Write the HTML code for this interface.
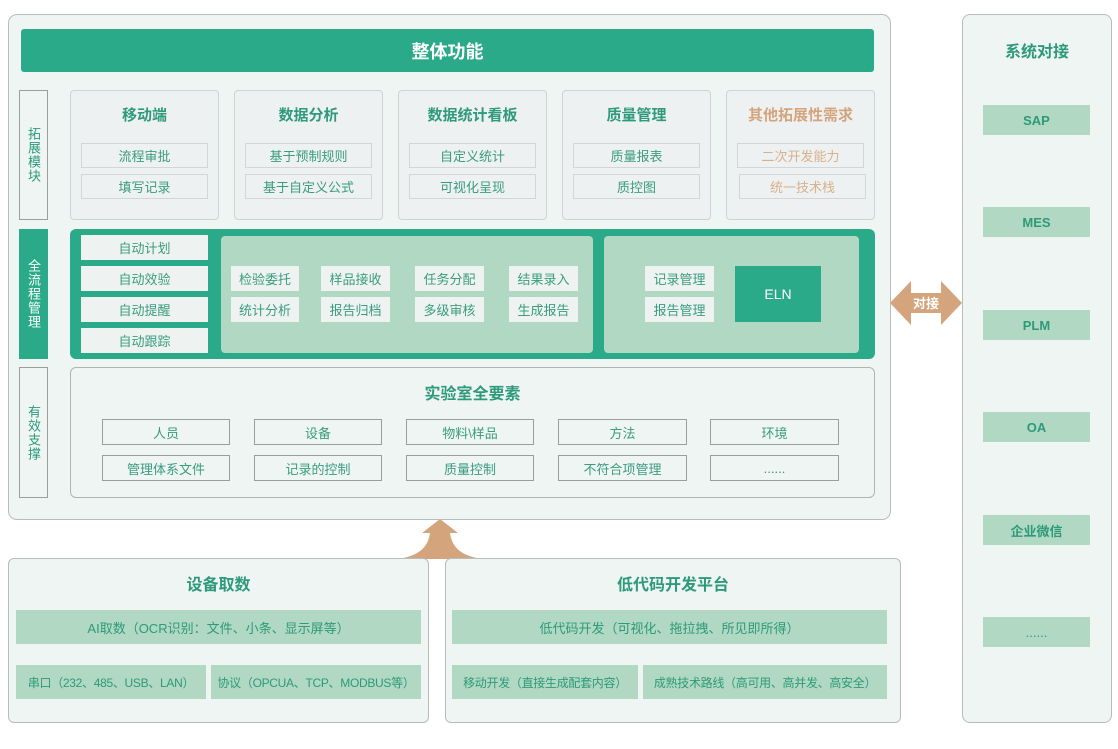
<!DOCTYPE html>
<html><head><meta charset="utf-8"><style>
*{box-sizing:border-box;margin:0;padding:0}
body{width:1118px;height:749px;background:#fff;position:relative;overflow:hidden;font-family:"Liberation Sans","Noto Sans CJK SC",sans-serif;color:#2a9a7a}
.a{position:absolute;display:flex;align-items:center;justify-content:center;text-align:center;white-space:nowrap}
.panel{background:#eef5f2;border:1.5px solid #b8bcbb;border-radius:9px}
.card{background:#eef1f1;border:1px solid #cfd3d3;border-radius:4px}
.it{background:#eef1f1;border:1px solid #d3d6d6;font-size:13px;color:#3a9c7e}
.g{background:#b0d8c2;font-size:13px;color:#2e9a7a}
.w{background:#eef3f1;font-size:13px;color:#3a9c7e}
.ttl{font-weight:bold;font-size:15px;color:#2e9a7a}
.vl{writing-mode:vertical-rl;letter-spacing:1px;font-size:13px}
.bx{border:1.5px solid #9a9e9d;background:#eef5f2;font-size:13px;color:#3a9c7e}
</style></head><body>
<div class="a panel" style="left:8px;top:14px;width:883px;height:506px"></div>
<div class="a" style="left:21px;top:29px;width:853px;height:43px;background:#2aaa88;color:#fff;font-weight:bold;font-size:18px;border-radius:3px">整体功能</div>

<div class="a vl" style="left:19px;top:90px;width:29px;height:130px;border:1.5px solid #9a9e9d;background:#eef5f2">拓展模块</div>
<div class="a vl" style="left:19px;top:229px;width:29px;height:130px;background:#2aaa88;color:#fff">全流程管理</div>
<div class="a vl" style="left:19px;top:367px;width:29px;height:131px;border:1.5px solid #9a9e9d;background:#eef5f2">有效支撑</div>

<div class="a card" style="left:70px;top:90px;width:149px;height:130px"></div>
<div class="a ttl" style="left:70px;top:104px;width:149px;height:20px">移动端</div>
<div class="a it" style="left:81px;top:143px;width:127px;height:25px">流程审批</div>
<div class="a it" style="left:81px;top:174px;width:127px;height:25px">填写记录</div>

<div class="a card" style="left:234px;top:90px;width:149px;height:130px"></div>
<div class="a ttl" style="left:234px;top:104px;width:149px;height:20px">数据分析</div>
<div class="a it" style="left:245px;top:143px;width:127px;height:25px">基于预制规则</div>
<div class="a it" style="left:245px;top:174px;width:127px;height:25px">基于自定义公式</div>

<div class="a card" style="left:398px;top:90px;width:149px;height:130px"></div>
<div class="a ttl" style="left:398px;top:104px;width:149px;height:20px">数据统计看板</div>
<div class="a it" style="left:409px;top:143px;width:127px;height:25px">自定义统计</div>
<div class="a it" style="left:409px;top:174px;width:127px;height:25px">可视化呈现</div>

<div class="a card" style="left:562px;top:90px;width:149px;height:130px"></div>
<div class="a ttl" style="left:562px;top:104px;width:149px;height:20px">质量管理</div>
<div class="a it" style="left:573px;top:143px;width:127px;height:25px">质量报表</div>
<div class="a it" style="left:573px;top:174px;width:127px;height:25px">质控图</div>

<div class="a card" style="left:726px;top:90px;width:149px;height:130px"></div>
<div class="a ttl" style="left:726px;top:104px;width:149px;height:20px;color:#d4a47c">其他拓展性需求</div>
<div class="a it" style="left:737px;top:143px;width:127px;height:25px;color:#d8b08c">二次开发能力</div>
<div class="a it" style="left:739px;top:174px;width:127px;height:25px;color:#d8b08c">统一技术栈</div>

<div class="a" style="left:70px;top:229px;width:805px;height:130px;background:#2aaa88;border-radius:6px"></div>
<div class="a w" style="left:81px;top:235px;width:127px;height:25px">自动计划</div>
<div class="a w" style="left:81px;top:266px;width:127px;height:25px">自动效验</div>
<div class="a w" style="left:81px;top:297px;width:127px;height:25px">自动提醒</div>
<div class="a w" style="left:81px;top:328px;width:127px;height:25px">自动跟踪</div>
<div class="a" style="left:221px;top:236px;width:372px;height:117px;background:#b0d8c2;border-radius:4px"></div>
<div class="a w" style="left:231px;top:266px;width:68px;height:25px">检验委托</div>
<div class="a w" style="left:321px;top:266px;width:69px;height:25px">样品接收</div>
<div class="a w" style="left:415px;top:266px;width:69px;height:25px">任务分配</div>
<div class="a w" style="left:509px;top:266px;width:69px;height:25px">结果录入</div>
<div class="a w" style="left:231px;top:297px;width:68px;height:25px">统计分析</div>
<div class="a w" style="left:321px;top:297px;width:69px;height:25px">报告归档</div>
<div class="a w" style="left:415px;top:297px;width:69px;height:25px">多级审核</div>
<div class="a w" style="left:509px;top:297px;width:69px;height:25px">生成报告</div>
<div class="a" style="left:604px;top:236px;width:255px;height:117px;background:#b0d8c2;border-radius:4px"></div>
<div class="a w" style="left:645px;top:266px;width:69px;height:25px">记录管理</div>
<div class="a w" style="left:645px;top:297px;width:69px;height:25px">报告管理</div>
<div class="a" style="left:735px;top:266px;width:86px;height:56px;background:#2aaa88;color:#fff;font-size:14px">ELN</div>

<div class="a" style="left:70px;top:367px;width:805px;height:131px;border:1.5px solid #b0b4b3;border-radius:6px;background:#eef5f2"></div>
<div class="a ttl" style="left:70px;top:381px;width:805px;height:22px;font-size:16px">实验室全要素</div>
<div class="a bx" style="left:102px;top:419px;width:128px;height:26px">人员</div>
<div class="a bx" style="left:254px;top:419px;width:128px;height:26px">设备</div>
<div class="a bx" style="left:406px;top:419px;width:128px;height:26px">物料\样品</div>
<div class="a bx" style="left:558px;top:419px;width:129px;height:26px">方法</div>
<div class="a bx" style="left:710px;top:419px;width:129px;height:26px">环境</div>
<div class="a bx" style="left:102px;top:455px;width:128px;height:26px">管理体系文件</div>
<div class="a bx" style="left:254px;top:455px;width:128px;height:26px">记录的控制</div>
<div class="a bx" style="left:406px;top:455px;width:128px;height:26px">质量控制</div>
<div class="a bx" style="left:558px;top:455px;width:129px;height:26px">不符合项管理</div>
<div class="a bx" style="left:710px;top:455px;width:129px;height:26px">......</div>

<svg style="position:absolute;left:889px;top:279px" width="74" height="48"><polygon points="1,24 22,2 22,14 52,14 52,2 73,24 52,46 52,34 22,34 22,46" fill="#d4a47c"/><text x="37" y="29" font-size="13" fill="#fff" text-anchor="middle" font-weight="bold" font-family="Liberation Sans,Noto Sans CJK SC,sans-serif">对接</text></svg>

<div class="a panel" style="left:962px;top:14px;width:150px;height:709px;border-radius:8px"></div>
<div class="a ttl" style="left:962px;top:39px;width:150px;height:22px;font-size:16px">系统对接</div>
<div class="a g" style="left:983px;top:105px;width:107px;height:30px;font-weight:bold">SAP</div>
<div class="a g" style="left:983px;top:207px;width:107px;height:30px;font-weight:bold">MES</div>
<div class="a g" style="left:983px;top:310px;width:107px;height:30px;font-weight:bold">PLM</div>
<div class="a g" style="left:983px;top:412px;width:107px;height:30px;font-weight:bold">OA</div>
<div class="a g" style="left:983px;top:515px;width:107px;height:30px;font-weight:bold">企业微信</div>
<div class="a g" style="left:983px;top:617px;width:107px;height:30px">......</div>

<svg style="position:absolute;left:396px;top:518px" width="90" height="42"><path d="M44,1 L62,15 L54,15 C56,30 66,38 86,41 L2,41 C22,38 32,30 34,15 L26,15 Z" fill="#d4a47c"/></svg>

<div class="a panel" style="left:8px;top:558px;width:421px;height:165px;border-radius:6px"></div>
<div class="a ttl" style="left:8px;top:572px;width:421px;height:22px;font-size:16px">设备取数</div>
<div class="a g" style="left:16px;top:610px;width:405px;height:34px">AI取数（OCR识别：文件、小条、显示屏等）</div>
<div class="a g" style="left:16px;top:665px;width:190px;height:34px;font-size:12px;letter-spacing:-0.3px">串口（232、485、USB、LAN）</div>
<div class="a g" style="left:211px;top:665px;width:210px;height:34px;font-size:12px;letter-spacing:-0.3px">协议（OPCUA、TCP、MODBUS等）</div>

<div class="a panel" style="left:445px;top:558px;width:456px;height:165px;border-radius:6px"></div>
<div class="a ttl" style="left:445px;top:572px;width:456px;height:22px;font-size:16px">低代码开发平台</div>
<div class="a g" style="left:452px;top:610px;width:435px;height:34px">低代码开发（可视化、拖拉拽、所见即所得）</div>
<div class="a g" style="left:452px;top:665px;width:186px;height:34px;font-size:12px;letter-spacing:-0.3px">移动开发（直接生成配套内容）</div>
<div class="a g" style="left:643px;top:665px;width:244px;height:34px;font-size:12px;letter-spacing:-0.3px">成熟技术路线（高可用、高并发、高安全）</div>
</body></html>
